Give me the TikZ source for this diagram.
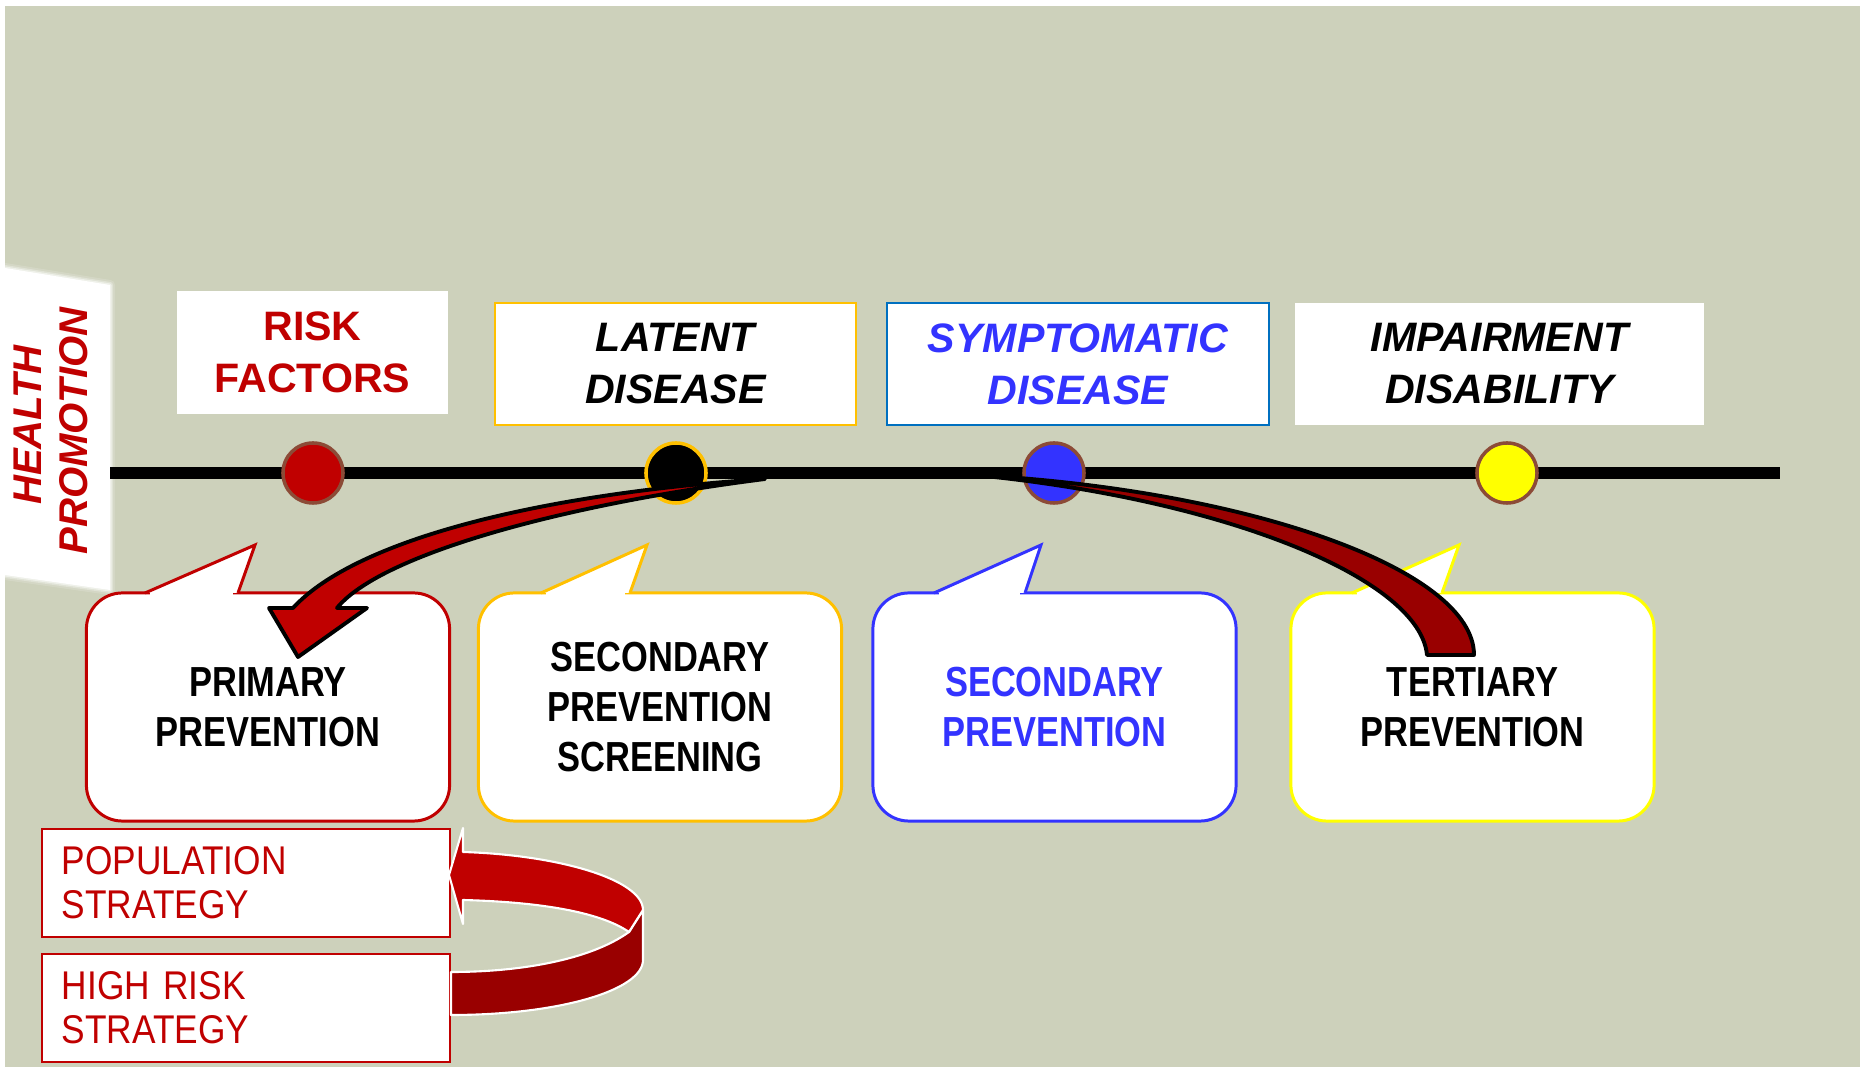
\documentclass[tikz,border=0pt]{standalone}
\usepackage{fontspec}
\setmainfont{Liberation Sans}
\newfontfamily\condensedfont{Liberation Sans}[FakeStretch=0.82]
\newfontfamily\narrowfont{Liberation Sans}[FakeStretch=0.88]

\definecolor{bgsage}{RGB}{205,209,187}
\definecolor{riskred}{HTML}{C00000}
\definecolor{deepred}{HTML}{990000}
\definecolor{gold}{HTML}{FFC000}
\definecolor{symblue}{HTML}{3333FF}
\definecolor{boxblue}{HTML}{0070C0}
\definecolor{ringbrown}{RGB}{140,75,55}
\definecolor{tertyellow}{HTML}{FFFF00}

\tikzset{
  stagebox/.style={fill=white, minimum height=1.22cm, align=center, inner sep=0pt,
    line width=0.6pt, font={\fontsize{11.7}{14.8}\selectfont\bfseries}},
  stagedot/.style={circle, minimum size=0.6cm, inner sep=0pt, line width=1pt, draw=ringbrown},
  bubble/.style={fill=white, rounded corners=0.36cm, line width=0.85pt,
    minimum width=3.63cm, minimum height=2.28cm, align=center,
    font={\fontsize{11.95}{14.2}\condensedfont\bfseries}},
  strategybox/.style={fill=white, draw=riskred, line width=0.6pt, text=riskred,
    minimum height=1.08cm, text width=3.68cm, inner xsep=0.2cm, align=left,
    font={\fontsize{11.4}{12.5}\narrowfont}},
  bentarrow/.style={draw=black, line width=1.1pt, line join=round},
  ribbon/.style={draw=white, line width=0.6pt, line join=round}
}

% pointer of a speech bubble: colour, base left x, tip x, base right x
\newcommand{\bubbletip}[4]{%
  \fill[white] (#2,593) -- (#3,545) -- (#4,593) -- cycle;
  \fill[white] (#2+5,590) rectangle (#4-5,597);
  \draw[#1, line width=0.85pt] (#2,593) -- (#3,545) -- (#4,593);
}

\begin{document}
\begin{tikzpicture}[x=0.01cm, y=-0.01cm]
  \useasboundingbox (0,0) rectangle (1865,1067);
  \fill[bgsage] (5,6) rectangle (1860,1067);

  % health promotion panel
  \foreach \w/\o in {10/0.15, 6/0.3, 3/0.5}
    \draw[white, opacity=\o, line width=\w*0.2845pt, line join=round]
      (5,268) -- (110,285) -- (110,590) -- (5,575) -- cycle;
  \fill[white] (5,268) -- (110,285) -- (110,590) -- (5,575) -- cycle;
  \node[rotate=90, text=riskred, font={\fontsize{11.4}{13}\selectfont\bfseries\itshape}] (health) at (27.5,425) {HEALTH};
  \node[rotate=90, text=riskred, font={\fontsize{11.4}{13}\selectfont\bfseries\itshape}] (promotion) at (74,431) {PROMOTION};

  % time line
  \coordinate (linestart) at (110,473);
  \coordinate (lineend) at (1780,473);
  \draw[black, line width=3.4pt] (linestart) -- (lineend);

  \node[stagedot, fill=riskred] (riskdot) at (313,473) {};
  \node[stagedot, fill=black, draw=gold] (latentdot) at (676,473) {};
  \node[stagedot, fill=symblue] (symptdot) at (1054,473) {};
  \node[stagedot, fill=tertyellow] (impairdot) at (1507,473) {};

  % stages
  \node[stagebox, minimum width=2.71cm, text=riskred] (risk) at (312.5,352.5) {RISK\\FACTORS};
  \node[stagebox, minimum width=3.61cm, draw=gold] (latent) at (675.5,364) {\itshape LATENT\\\itshape DISEASE};
  \node[stagebox, minimum width=3.82cm, draw=boxblue, text=symblue] (sympt) at (1078,364) {\itshape SYMPTOMATIC\\\itshape DISEASE};
  \node[stagebox, minimum width=4.09cm] (impair) at (1499.5,364) {\itshape IMPAIRMENT\\\itshape DISABILITY};

  % prevention bubbles
  \node[bubble, draw=riskred] (primary) at (268,707) {PRIMARY\\PREVENTION};
  \bubbletip{riskred}{145}{255}{238}
  \node[bubble, draw=gold] (screening) at (660,707) {SECONDARY\\PREVENTION\\SCREENING};
  \bubbletip{gold}{541}{647}{630}
  \node[bubble, draw=symblue, text=symblue] (secondary) at (1054.5,707) {SECONDARY\\PREVENTION};
  \bubbletip{symblue}{934}{1041}{1025}
  \node[bubble, draw=tertyellow] (tertiary) at (1472.5,707) {TERTIARY\\PREVENTION};
  \bubbletip{tertyellow}{1352}{1459}{1442}

  % curved arrows
  \coordinate (tailA) at (765,479);
  \coordinate (tailB) at (975,475);
  \draw[bentarrow, fill=riskred] (tailA) .. controls (560,492) and (360,535) .. (293,608)
    -- (269,608) -- (298,657) -- (367,608) -- (337,608)
    .. controls (380,555) and (560,505) .. (tailA) -- cycle;
  \draw[bentarrow, fill=deepred] (tailB) .. controls (1250,490) and (1474,570) .. (1474,655)
    -- (1427,655) .. controls (1420,580) and (1230,500) .. (tailB) -- cycle;

  % strategies
  \node[strategybox] (population) at (246,883) {POPULATION\\STRATEGY};
  \node[strategybox] (highrisk) at (246,1008) {HIGH RISK\\STRATEGY};

  % loop arrow
  \draw[ribbon, fill=deepred] (451,972) .. controls (520,972) and (590,960) .. (629,932)
    -- (643,910) -- (643,960) .. controls (643,990) and (560,1015) .. (451,1015) -- cycle;
  \draw[ribbon, fill=riskred] (463,852) .. controls (560,855) and (643,880) .. (643,910)
    -- (629,932) .. controls (600,912) and (540,902) .. (463,900)
    -- (463,924) -- (449,875) -- (463,828) -- cycle;
\end{tikzpicture}
\end{document}
